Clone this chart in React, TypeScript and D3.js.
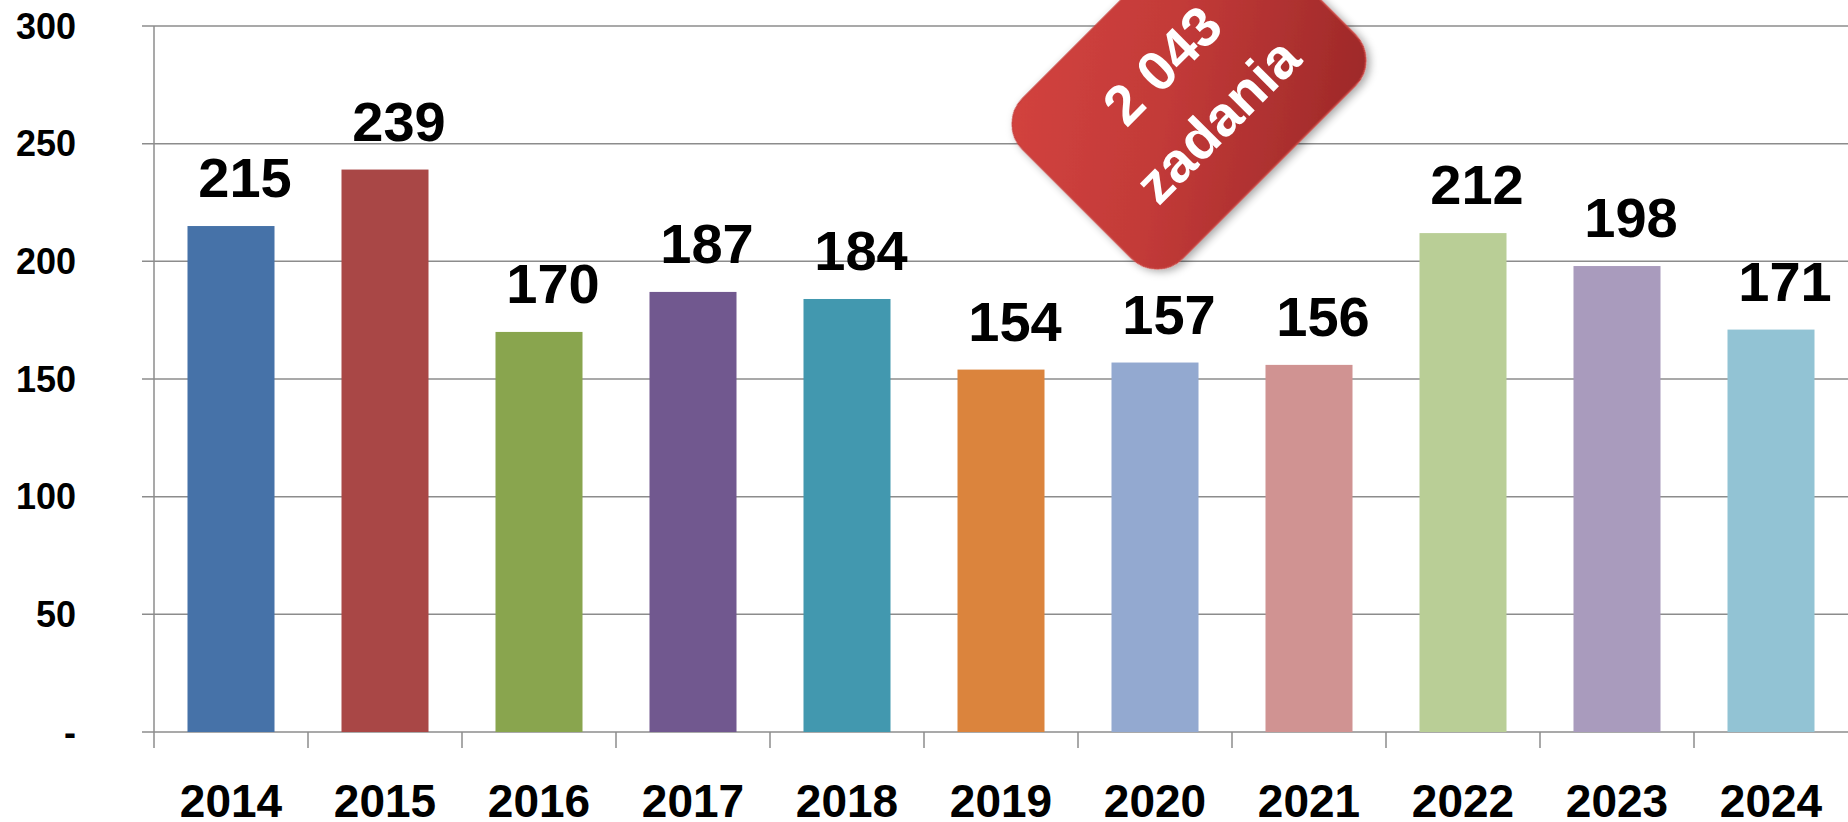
import React from 'react';
import * as d3 from 'd3';

const years = ['2014', '2015', '2016', '2017', '2018', '2019', '2020', '2021', '2022', '2023', '2024'];
const values = [215, 239, 170, 187, 184, 154, 157, 156, 212, 198, 171];
const barColors = ['#4672A8', '#A94746', '#89A54E', '#71588F', '#4298AF', '#DB843D', '#93A9D0', '#D09392', '#B9CE96', '#A99BBD', '#92C3D4'];
const yTicks = [0, 50, 100, 150, 200, 250, 300];
const yTickLabels = ['-', '50', '100', '150', '200', '250', '300'];
const badgeLines = ['2 043', 'zadania'];

const W = 1848;
const H = 822;
const FONT = '"Liberation Sans", Arial, sans-serif';

export default function App() {
  const x = d3.scaleBand<string>().domain(years).range([154, 1848]).paddingInner(0.435).paddingOuter(0.2175);
  const y = d3.scaleLinear().domain([0, 300]).range([732, 26]);
  const step = x.step();
  const gridColor = '#8c8c8c';

  const cx = 1189;
  const cy = 92;
  const bw = 316;
  const bh = 226;

  return (
    <svg width={W} height={H} style={{ position: 'absolute', left: 0, top: 0, display: 'block', background: '#fff' }}>
      <defs>
        <linearGradient id="badgeGrad" x1="0" y1="0" x2="1" y2="1">
          <stop offset="0" stopColor="#D3433F" />
          <stop offset="0.45" stopColor="#C23A38" />
          <stop offset="1" stopColor="#9C2828" />
        </linearGradient>
        <filter id="shadow" x="-30%" y="-30%" width="160%" height="160%">
          <feDropShadow dx="1" dy="4" stdDeviation="4" floodColor="#000" floodOpacity="0.35" />
        </filter>
      </defs>

      {/* gridlines */}
      {yTicks.map((t) => (
        <line key={'g' + t} x1={142} x2={W} y1={y(t)} y2={y(t)} stroke={gridColor} strokeWidth={1.5} />
      ))}
      {/* y axis */}
      <line x1={154} x2={154} y1={y(300)} y2={y(0) + 16} stroke={gridColor} strokeWidth={1.5} />
      {/* x ticks */}
      {years.slice(1).map((yr, i) => {
        const bx = 154 + step * (i + 1);
        return <line key={'t' + yr} x1={bx} x2={bx} y1={y(0)} y2={y(0) + 16} stroke={gridColor} strokeWidth={1.5} />;
      })}

      {/* y labels */}
      {yTicks.map((t, i) => (
        <text key={'yl' + t} x={76} y={y(t)} textAnchor="end" dominantBaseline="central" fontFamily={FONT} fontWeight="bold" fontSize={36} fill="#000">
          {yTickLabels[i]}
        </text>
      ))}

      {/* bars */}
      {years.map((yr, i) => (
        <rect key={'b' + yr} x={x(yr)} y={y(values[i])} width={x.bandwidth()} height={y(0) - y(values[i])} fill={barColors[i]} />
      ))}

      {/* value labels */}
      {years.map((yr, i) => (
        <text key={'v' + yr} x={(x(yr) as number) + x.bandwidth() / 2 + 14} y={y(values[i]) - 29} textAnchor="middle" fontFamily={FONT} fontWeight="bold" fontSize={56} fill="#000">
          {values[i]}
        </text>
      ))}

      {/* year labels */}
      {years.map((yr) => (
        <text key={'x' + yr} x={(x(yr) as number) + x.bandwidth() / 2} y={817} textAnchor="middle" fontFamily={FONT} fontWeight="bold" fontSize={46} fill="#000">
          {yr}
        </text>
      ))}

      {/* badge */}
      <g transform={`translate(${cx},${cy}) rotate(-45)`}>
        <rect x={-bw / 2} y={-bh / 2} width={bw} height={bh} rx={36} ry={36} fill="url(#badgeGrad)" stroke="#C9413E" strokeWidth={1.5} filter="url(#shadow)" />
        {badgeLines.map((ln, i) => (
          <text key={'bl' + i} x={0} y={i === 0 ? -38 : 40} textAnchor="middle" dominantBaseline="central" fontFamily={FONT} fontWeight="bold" fontSize={56} fill="#fff">
            {ln}
          </text>
        ))}
      </g>
    </svg>
  );
}
